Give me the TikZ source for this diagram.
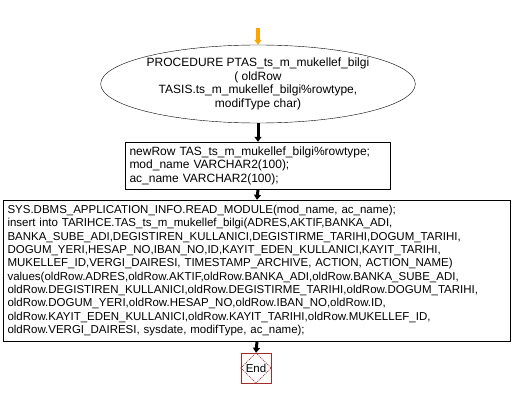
\documentclass[tikz,border=0pt]{standalone}
\usepackage{fontspec}
\setmainfont{Liberation Sans}
\usetikzlibrary{shapes.geometric, arrows.meta}
\definecolor{startorange}{HTML}{FFA500}
\definecolor{endred}{HTML}{A52A2A}
\tikzset{
	flowtext/.style={font=\fontsize{11.5}{13.3}\selectfont}
}
\tikzset{
	headtext/.style={font=\fontsize{12}{13.6}\selectfont}
}
\tikzset{
	procnode/.style={headtext, draw, ellipse, align=center, inner sep=0pt,
			minimum width=264pt, minimum height=78pt}
}
\tikzset{
	stmtbox/.style={draw, rectangle, align=left, inner xsep=4pt, inner ysep=3pt}
}
\tikzset{
	flow/.style={line width=3pt, -{Triangle[length=5pt, width=7pt]}}
}
\begin{document}
\begin{tikzpicture}[x=1pt, y=-1pt]
			\useasboundingbox (0,0) rectangle (513,401);

			\coordinate (entry) at (258,28);

			\node[procnode] (proc) at (258,84) {PROCEDURE PTAS\_ts\_m\_mukellef\_bilgi\\( oldRow\\TASIS.ts\_m\_mukellef\_bilgi\%rowtype,\\modifType char)};

			\node[stmtbox, headtext, minimum width=265pt, minimum height=47pt, text width=257pt] (decl) at (258,165.5) {newRow TAS\_ts\_m\_mukellef\_bilgi\%rowtype;\\mod\_name VARCHAR2(100);\\ac\_name VARCHAR2(100);};

			\node[stmtbox, flowtext, minimum width=507pt, minimum height=141pt, text width=499pt] (body) at (257,270.5) {SYS.DBMS\_APPLICATION\_INFO.READ\_MODULE(mod\_name, ac\_name);\\
insert into TARIHCE.TAS\_ts\_m\_mukellef\_bilgi(ADRES,AKTIF,BANKA\_ADI,\\
BANKA\_SUBE\_ADI,DEGISTIREN\_KULLANICI,DEGISTIRME\_TARIHI,DOGUM\_TARIHI,\\
DOGUM\_YERI,HESAP\_NO,IBAN\_NO,ID,KAYIT\_EDEN\_KULLANICI,KAYIT\_TARIHI,\\
MUKELLEF\_ID,VERGI\_DAIRESI, TIMESTAMP\_ARCHIVE, ACTION, ACTION\_NAME)\\
values(oldRow.ADRES,oldRow.AKTIF,oldRow.BANKA\_ADI,oldRow.BANKA\_SUBE\_ADI,\\
oldRow.DEGISTIREN\_KULLANICI,oldRow.DEGISTIRME\_TARIHI,oldRow.DOGUM\_TARIHI,\\
oldRow.DOGUM\_YERI,oldRow.HESAP\_NO,oldRow.IBAN\_NO,oldRow.ID,\\
oldRow.KAYIT\_EDEN\_KULLANICI,oldRow.KAYIT\_TARIHI,oldRow.MUKELLEF\_ID,\\
oldRow.VERGI\_DAIRESI, sysdate, modifType, ac\_name);};

			\node[flowtext, draw=endred, minimum size=30pt, inner sep=0pt] (finish) at (256,368) {End};
			\draw[endred, line width=0.7pt, dash pattern=on 1pt off 1pt] (finish.north) -- (finish.east) -- (finish.south) -- (finish.west) -- cycle;

			\draw[flow, startorange, line width=4pt] (entry) -- (proc.north);
			\draw[flow] (proc.south) -- (decl.north);
			\draw[flow] (decl.south) -- (body.north);
			\draw[flow] (body.south) -- (finish.north);

		\end{tikzpicture}
\end{document}
